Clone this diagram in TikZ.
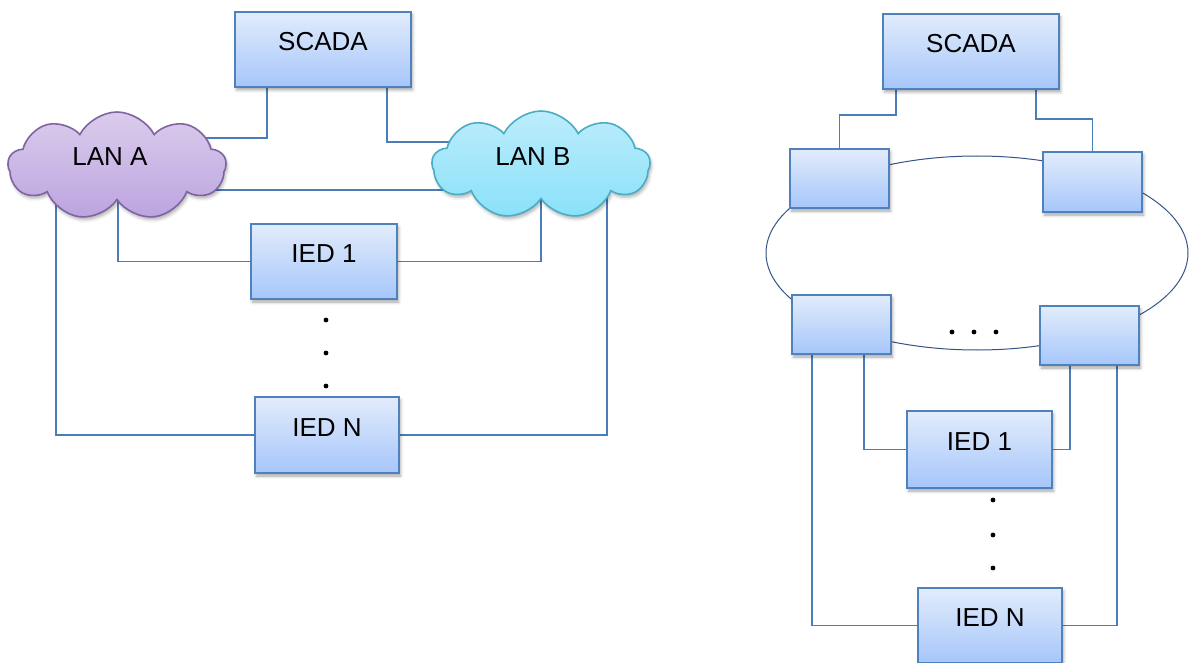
\documentclass[tikz,border=0pt]{standalone}
\usepackage{fontspec}
\setmainfont{Liberation Sans}
\usetikzlibrary{shapes.symbols,shapes.geometric,shadows.blur}
\pgfdeclarelayer{background}
\pgfsetlayers{background,main}

\definecolor{boxtop}{RGB}{226,236,252}
\definecolor{boxbot}{RGB}{166,198,250}
\definecolor{boxline}{RGB}{79,129,189}
\definecolor{wirecol}{RGB}{74,126,187}
\definecolor{ringline}{RGB}{52,84,132}
\definecolor{lanAtop}{RGB}{218,204,236}
\definecolor{lanAbot}{RGB}{188,164,224}
\definecolor{lanAline}{RGB}{128,100,162}
\definecolor{lanBtop}{RGB}{188,236,251}
\definecolor{lanBbot}{RGB}{138,225,250}
\definecolor{lanBline}{RGB}{75,172,198}

\tikzset{
  unit/.style={draw=boxline, line width=1.8pt, top color=boxtop, bottom color=boxbot,
    rectangle, inner sep=0pt, text height=11pt, text depth=8.4pt,
    font=\fontsize{26}{30}\selectfont,
    blur shadow={shadow xshift=1.5pt, shadow yshift=-3pt, shadow blur radius=3pt, shadow opacity=35}},
  lan/.style={cloud, cloud puffs=9, cloud puff arc=125, cloud ignores aspect,
    minimum width=218pt, minimum height=108pt, line width=1.6pt, inner sep=0pt,
    blur shadow={shadow xshift=1.5pt, shadow yshift=-3pt, shadow blur radius=3pt, shadow opacity=30}},
  lantext/.style={font=\fontsize{26}{30}\selectfont, inner sep=0pt},
  wire/.style={draw=wirecol, line width=1.3pt},
  ring/.style={draw=ringline, line width=1pt, ellipse, inner sep=0pt},
  dotmark/.style={fill=black}
}

\begin{document}
\begin{tikzpicture}[x=1pt,y=-1pt]
\useasboundingbox (0,0) rectangle (1189,663);

% ---------- parallel redundancy: two LANs ----------
\node[unit, minimum width=176pt, minimum height=75pt] (scadaL) at (323,49.5) {SCADA};
\node[lan, draw=lanAline, top color=lanAtop, bottom color=lanAbot] (lanA) at (117,166) {};
\node[lan, draw=lanBline, top color=lanBtop, bottom color=lanBbot] (lanB) at (541,165) {};
\node[lantext] at ([xshift=-7pt,yshift=9pt]lanA.center) {LAN A};
\node[lantext] at ([xshift=-8pt,yshift=8pt]lanB.center) {LAN B};
\node[unit, minimum width=146pt, minimum height=75pt] (ied1L) at (324,261.5) {IED 1};
\node[unit, minimum width=144pt, minimum height=76pt] (iedNL) at (327,435) {IED N};

\foreach \yy in {320,353,386} \fill[dotmark] (326,\yy) circle (2.4pt);

% ---------- ring redundancy ----------
\node[ring, minimum width=422pt, minimum height=194pt] (ringR) at (977,253) {};
\node[unit, minimum width=176pt, minimum height=75pt] (scadaR) at (971,51.5) {SCADA};
\node[unit, minimum width=99pt, minimum height=59pt] (swTL) at (839.5,178.5) {};
\node[unit, minimum width=99pt, minimum height=60pt] (swTR) at (1092.5,182) {};
\node[unit, minimum width=99pt, minimum height=59pt] (swBL) at (841.5,324.5) {};
\node[unit, minimum width=99pt, minimum height=59pt] (swBR) at (1089.5,335.5) {};
\node[unit, minimum width=145pt, minimum height=77pt] (ied1R) at (979.5,449.5) {IED 1};
\node[unit, minimum width=144pt, minimum height=75pt] (iedNR) at (990,625.5) {IED N};

\foreach \xx in {952,974,996} \fill[dotmark] (\xx,332) circle (2.4pt);
\foreach \yy in {500,535,568} \fill[dotmark] (993,\yy) circle (2.4pt);

% ---------- links, kept beneath the boxes and clouds ----------
\begin{pgfonlayer}{background}
  \draw[wire] ([xshift=33pt]scadaL.south west) |- ([yshift=28pt]lanA.center);
  \draw[wire] ([xshift=-25pt]scadaL.south east) |- ([yshift=23pt]lanB.center);
  \draw[wire] ([yshift=-24pt]lanA.center) -- ([yshift=-25pt]lanB.center);
  \draw[wire] ([xshift=1pt]lanA.center) |- (ied1L.west);
  \draw[wire] (ied1L.east) -| (lanB.center);
  \draw[wire] ([xshift=-61pt]lanA.center) |- (iedNL.west);
  \draw[wire] (iedNL.east) -| ([xshift=66pt]lanB.center);

  \draw[wire] ([xshift=14pt]scadaR.south west) -- ++(0,25) -| (swTL.north);
  \draw[wire] ([xshift=-24pt]scadaR.south east) -- ++(0,29) -| (swTR.north);
  \draw[wire] ([xshift=21pt]swBL.south west) |- (iedNR.west);
  \draw[wire] ([xshift=-28pt]swBL.south east) |- (ied1R.west);
  \draw[wire] ([xshift=31pt]swBR.south west) |- (ied1R.east);
  \draw[wire] ([xshift=-23pt]swBR.south east) |- (iedNR.east);
\end{pgfonlayer}
\end{tikzpicture}
\end{document}
